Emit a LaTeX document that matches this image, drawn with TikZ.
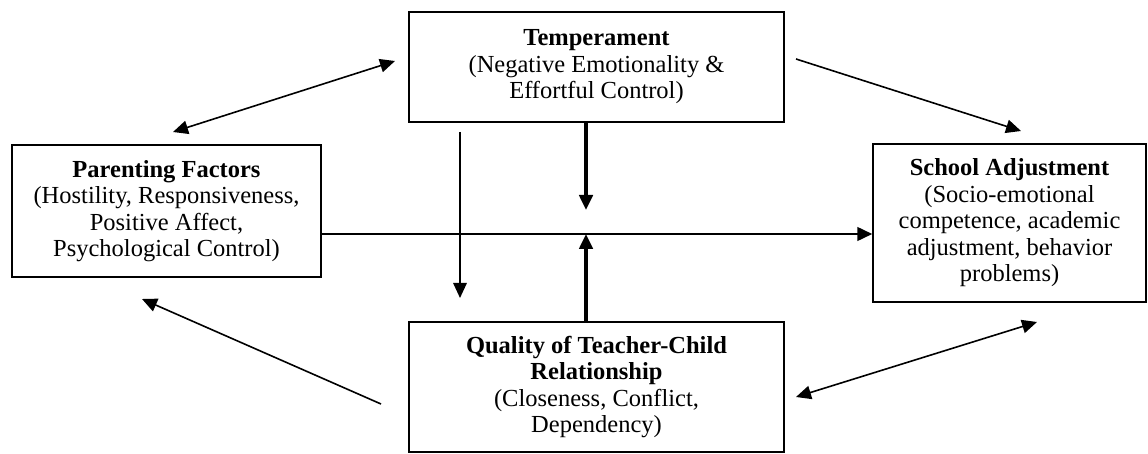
\documentclass[tikz,border=0pt]{standalone}
\usepackage{fontspec}
\setmainfont{Liberation Serif}
\usetikzlibrary{arrows.meta}
\begin{document}
\begin{tikzpicture}[x=1pt,y=-1pt,
  >={Triangle[length=15pt,width=13.5pt]},
  box/.style={draw, line width=1.3pt, rectangle, inner sep=0pt, align=center,
    font=\fontsize{24.5}{26.5}\selectfont},
  thinarrow/.style={line width=1.6pt},
  thickarrow/.style={line width=3.2pt},
  midarrow/.style={line width=2.7pt}]
\useasboundingbox (0,0) rectangle (1148,454);

\node[box, minimum width=375pt, minimum height=110pt] (tem) at (596.5,67)
  {\textbf{Temperament}\\(Negative Emotionality \&\\Effortful Control)};
\node[box, minimum width=309pt, minimum height=132pt] (par) at (166.5,211)
  {\textbf{Parenting Factors}\\(Hostility, Responsiveness,\\Positive Affect,\\Psychological Control)};
\node[box, minimum width=273pt, minimum height=158pt] (sch) at (1009.5,223)
  {\textbf{School Adjustment}\\(Socio-emotional\\competence, academic\\adjustment, behavior\\problems)};
\node[box, minimum width=375pt, minimum height=130pt] (qua) at (596.5,387)
  {\textbf{Quality of Teacher-Child}\\\textbf{Relationship}\\(Closeness, Conflict,\\Dependency)};

\coordinate (pt1) at (173,132);
\coordinate (pt2) at (395,61);
\coordinate (ts1) at (796,59);
\coordinate (ts2) at (1021,131);
\coordinate (td1) at (460,132);
\coordinate (td2) at (460,298);
\coordinate (kd) at (586,210);
\coordinate (ku) at (586,234);
\coordinate (hl) at (600,234);
\coordinate (qp1) at (381,404);
\coordinate (qp2) at (142,299);
\coordinate (qs1) at (796,397);
\coordinate (qs2) at (1037,322);

\draw[thinarrow,<->] (pt1) -- (pt2);
\draw[thinarrow,->] (ts1) -- (ts2);
\draw[thinarrow,->] (td1) -- (td2);
\draw[thinarrow,->] (qp1) -- (qp2);
\draw[thinarrow,<->] (qs1) -- (qs2);
\draw[midarrow,->] (par.east |- hl) -- (sch.west |- hl);
\draw[thickarrow,->] (tem.south -| kd) -- (kd);
\draw[thickarrow,->] (qua.north -| ku) -- (ku);
\end{tikzpicture}
\end{document}
